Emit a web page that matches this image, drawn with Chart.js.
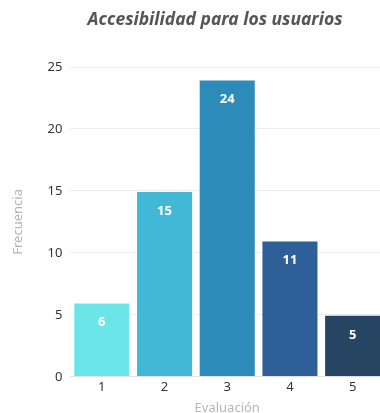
<!DOCTYPE html>
<html>
<head>
<meta charset="utf-8">
<script src="https://cdn.jsdelivr.net/npm/chart.js@4/dist/chart.umd.min.js"></script>
<style>
  html, body { margin: 0; padding: 0; background: #fff; overflow: hidden; }
  #wrap { width: 384px; height: 416px; }
</style>
</head>
<body>
<div id="wrap"><canvas id="chart"></canvas></div>
<script>
const categories = ['1', '2', '3', '4', '5'];
const frecuencia = [6, 15, 24, 11, 5];
const barColors = ['#6ce5e8', '#41b8d5', '#2d8bba', '#2f5f98', '#264563'];
const chartTitle = 'Accesibilidad para los usuarios';

// white value labels near the top of each bar, plus the title centred over the plot
const valueLabels = {
    id: 'valueLabels',
    afterDatasetsDraw(chart) {
        const ctx = chart.ctx;
        const meta = chart.getDatasetMeta(0);
        ctx.save();
        ctx.fillStyle = '#ffffff';
        ctx.font = 'bold 13px "Noto Sans", sans-serif';
        ctx.textAlign = 'center';
        ctx.textBaseline = 'middle';
        meta.data.forEach((bar, i) => {
            ctx.fillText(frecuencia[i], bar.x, bar.y + 20);
        });
        ctx.fillStyle = '#555555';
        ctx.font = 'italic bold 17.5px "Noto Sans", sans-serif';
        ctx.fillText(chartTitle, 215, 20);
        ctx.restore();
    }
};

const ctx = document.getElementById('chart').getContext('2d');
new Chart(ctx, {
    type: 'bar',
    data: {
        labels: categories,
        datasets: [{
            data: frecuencia,
            backgroundColor: barColors,
            borderColor: 'rgba(255,255,255,0.35)',
            borderWidth: 1,
            barPercentage: 0.91,
            categoryPercentage: 1.0
        }]
    },
    options: {
        responsive: true,
        maintainAspectRatio: false,
        animation: false,
        layout: { padding: { left: 10, right: 0, top: 67, bottom: 0 } },
        plugins: {
            legend: { display: false },
            tooltip: { enabled: false },
            title: { display: false }
        },
        scales: {
            x: {
                grid: { display: false, drawTicks: false },
                border: { color: '#e6e6e6' },
                ticks: { color: '#333', padding: 3, font: { family: '"Noto Sans", sans-serif', size: 13 } },
                title: {
                    display: true,
                    text: 'Evaluación',
                    color: '#b5b5b5',
                    font: { family: '"Noto Sans", sans-serif', size: 13 },
                    padding: { top: 2, bottom: 0 }
                }
            },
            y: {
                min: 0,
                max: 25,
                ticks: { stepSize: 5, color: '#333', padding: 8, font: { family: '"Noto Sans", sans-serif', size: 13 } },
                grid: { color: '#ececec', drawTicks: false },
                border: { display: false },
                title: {
                    display: true,
                    text: 'Frecuencia',
                    color: '#b5b5b5',
                    font: { family: '"Noto Sans", sans-serif', size: 13 },
                    padding: { top: 0, bottom: 14 }
                }
            }
        }
    },
    plugins: [valueLabels]
});
</script>
</body>
</html>
